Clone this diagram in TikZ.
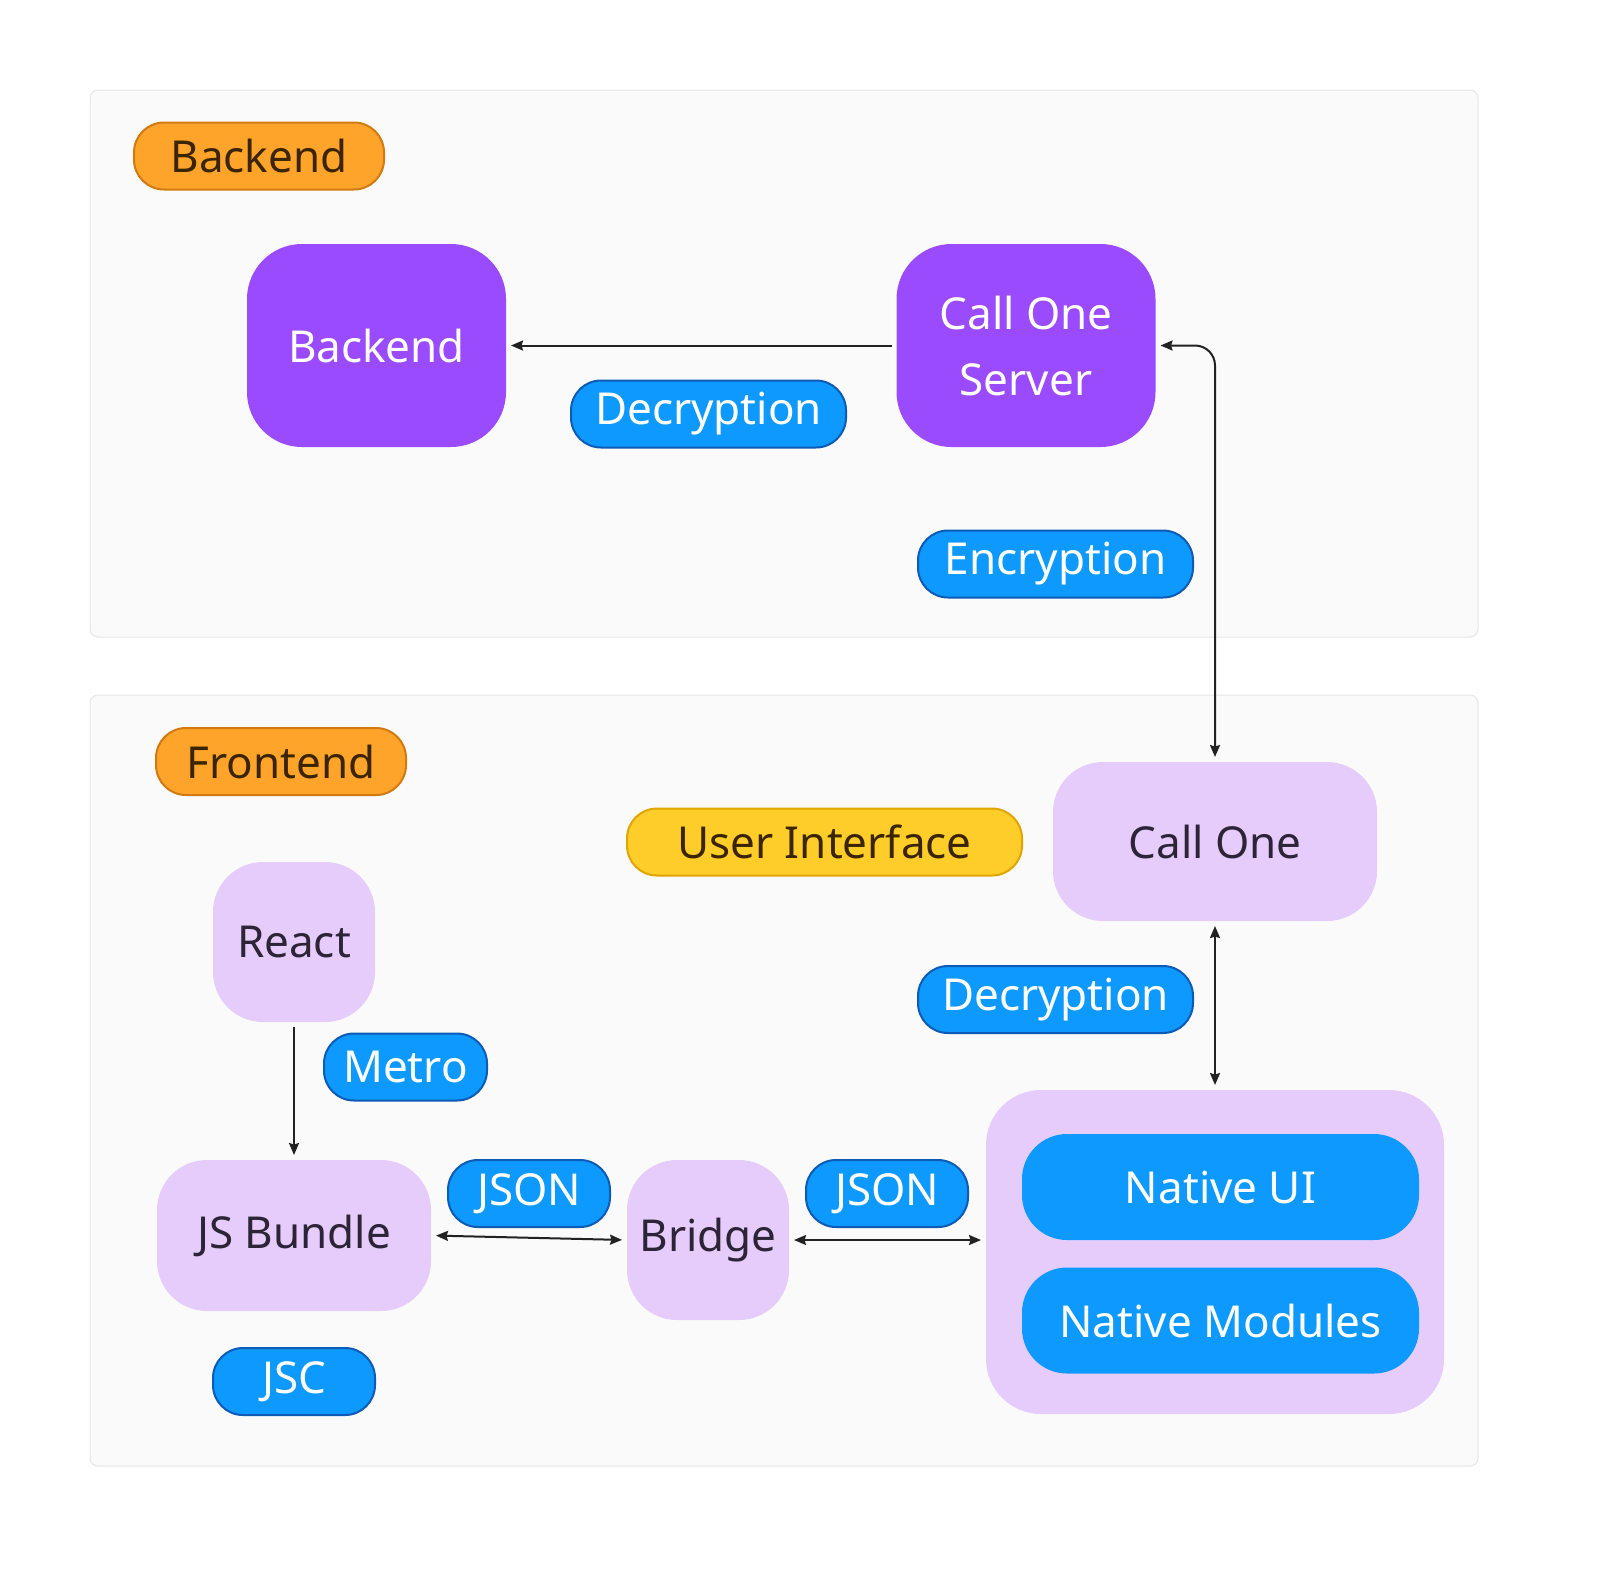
\documentclass[tikz,border=0pt]{standalone}
\usepackage{fontspec}
\setmainfont{Noto Sans}
\usepackage{xcolor}
\usetikzlibrary{positioning,arrows.meta}

\definecolor{panelfill}{HTML}{FAFAFA}
\definecolor{panelline}{HTML}{E6E6E6}
\definecolor{violet}{HTML}{9A4BFE}
\definecolor{lavender}{HTML}{E5CCFB}
\definecolor{skyblue}{HTML}{0E99FF}
\definecolor{skyline}{HTML}{0D5BB5}
\definecolor{amber}{HTML}{FFA42B}
\definecolor{amberline}{HTML}{D07A10}
\definecolor{lemon}{HTML}{FFCD29}
\definecolor{lemonline}{HTML}{E0A500}
\definecolor{darktext}{HTML}{2D2438}
\definecolor{browntext}{HTML}{3B2500}
\definecolor{wire}{HTML}{222222}

\begin{document}
\begin{tikzpicture}[
    x=1pt,
    y=-1pt,
    >={Stealth[length=12pt,width=10pt,inset=1.5pt]},
    line width=2pt,
    font=\fontsize{44}{66}\selectfont
]

\tikzstyle{panel}=[
    draw=panelline,
    fill=panelfill,
    line width=1pt,
    rounded corners=8pt
]
\tikzstyle{tag}=[
    draw,
    line width=2pt,
    inner sep=0pt,
    minimum height=67pt,
    rounded corners=30pt,
    align=center
]
\tikzstyle{bluetag}=[tag, fill=skyblue, draw=skyline, text=white]
\tikzstyle{grouptag}=[tag, fill=amber, draw=amberline, text=browntext, minimum width=250pt]
\tikzstyle{service}=[
    fill=violet,
    text=white,
    inner sep=0pt,
    minimum width=259pt,
    minimum height=203pt,
    rounded corners=55pt,
    align=center
]
\tikzstyle{part}=[
    fill=lavender,
    text=darktext,
    inner sep=0pt,
    rounded corners=50pt,
    align=center
]
\tikzstyle{native}=[
    fill=skyblue,
    text=white,
    inner sep=0pt,
    minimum width=397pt,
    minimum height=106pt,
    rounded corners=45pt
]
\tikzstyle{link}=[draw=wire, shorten >=4pt, shorten <=4pt]

\fill[white] (0,0) rectangle (1600,1588);
\useasboundingbox (0,0) rectangle (1600,1588);

% panels
\draw[panel] (90,90) rectangle (1478,637);
\draw[panel] (90,695) rectangle (1478,1466);

% backend side
\node[grouptag] (backendtag) at (259,156) {Backend};
\node[service] (backend) at (376.5,345.5) {Backend};
\node[service] (server) at (1026,345.5) {Call One\\Server};
\node[bluetag, minimum width=275pt] (decrypt1) at (708.5,414) {Decryption};
\node[bluetag, minimum width=275pt] (encrypt) at (1055.5,564) {Encryption};

% frontend side
\node[grouptag] (frontendtag) at (281,761.5) {Frontend};
\node[tag, fill=lemon, draw=lemonline, text=browntext, minimum width=395pt] (ui) at (824.5,842) {User Interface};
\node[part, minimum width=324pt, minimum height=159pt] (callone) at (1215,841.5) {Call One};
\node[bluetag, minimum width=275pt] (decrypt2) at (1055.5,999.5) {Decryption};
\node[part, minimum width=162pt, minimum height=160pt] (react) at (294,942) {React};
\node[bluetag, minimum width=163pt] (metro) at (405.5,1067) {Metro};
\node[part, minimum width=274pt, minimum height=151pt] (bundle) at (294,1235.5) {JS Bundle};
\node[bluetag, minimum width=162pt] (json1) at (529,1193.5) {JSON};
\node[part, minimum width=162pt, minimum height=160pt] (bridge) at (708,1240) {Bridge};
\node[bluetag, minimum width=162pt] (json2) at (887,1193.5) {JSON};
\node[part, minimum width=458pt, minimum height=324pt, rounded corners=55pt] (nativebox) at (1215,1252) {};
\node[native] (nativeui) at (1220.5,1187) {Native UI};
\node[native] (modules) at (1220.5,1320.5) {Native Modules};
\node[bluetag, minimum width=162pt] (jsc) at (294,1381.5) {JSC};

% connectors
\draw[link, ->] (server.west) -- (backend.east);
\draw[link, <->, rounded corners=20pt] (server.east) -| (callone.north);
\draw[link, <->] (callone.south) -- (nativebox.north);
\draw[link, ->] (react.south) -- (bundle.north);
\draw[link, <->] (bundle.east) -- (bridge.west);
\draw[link, <->] (bridge.east) -- (bridge.east -| nativebox.west);

\end{tikzpicture}
\end{document}
